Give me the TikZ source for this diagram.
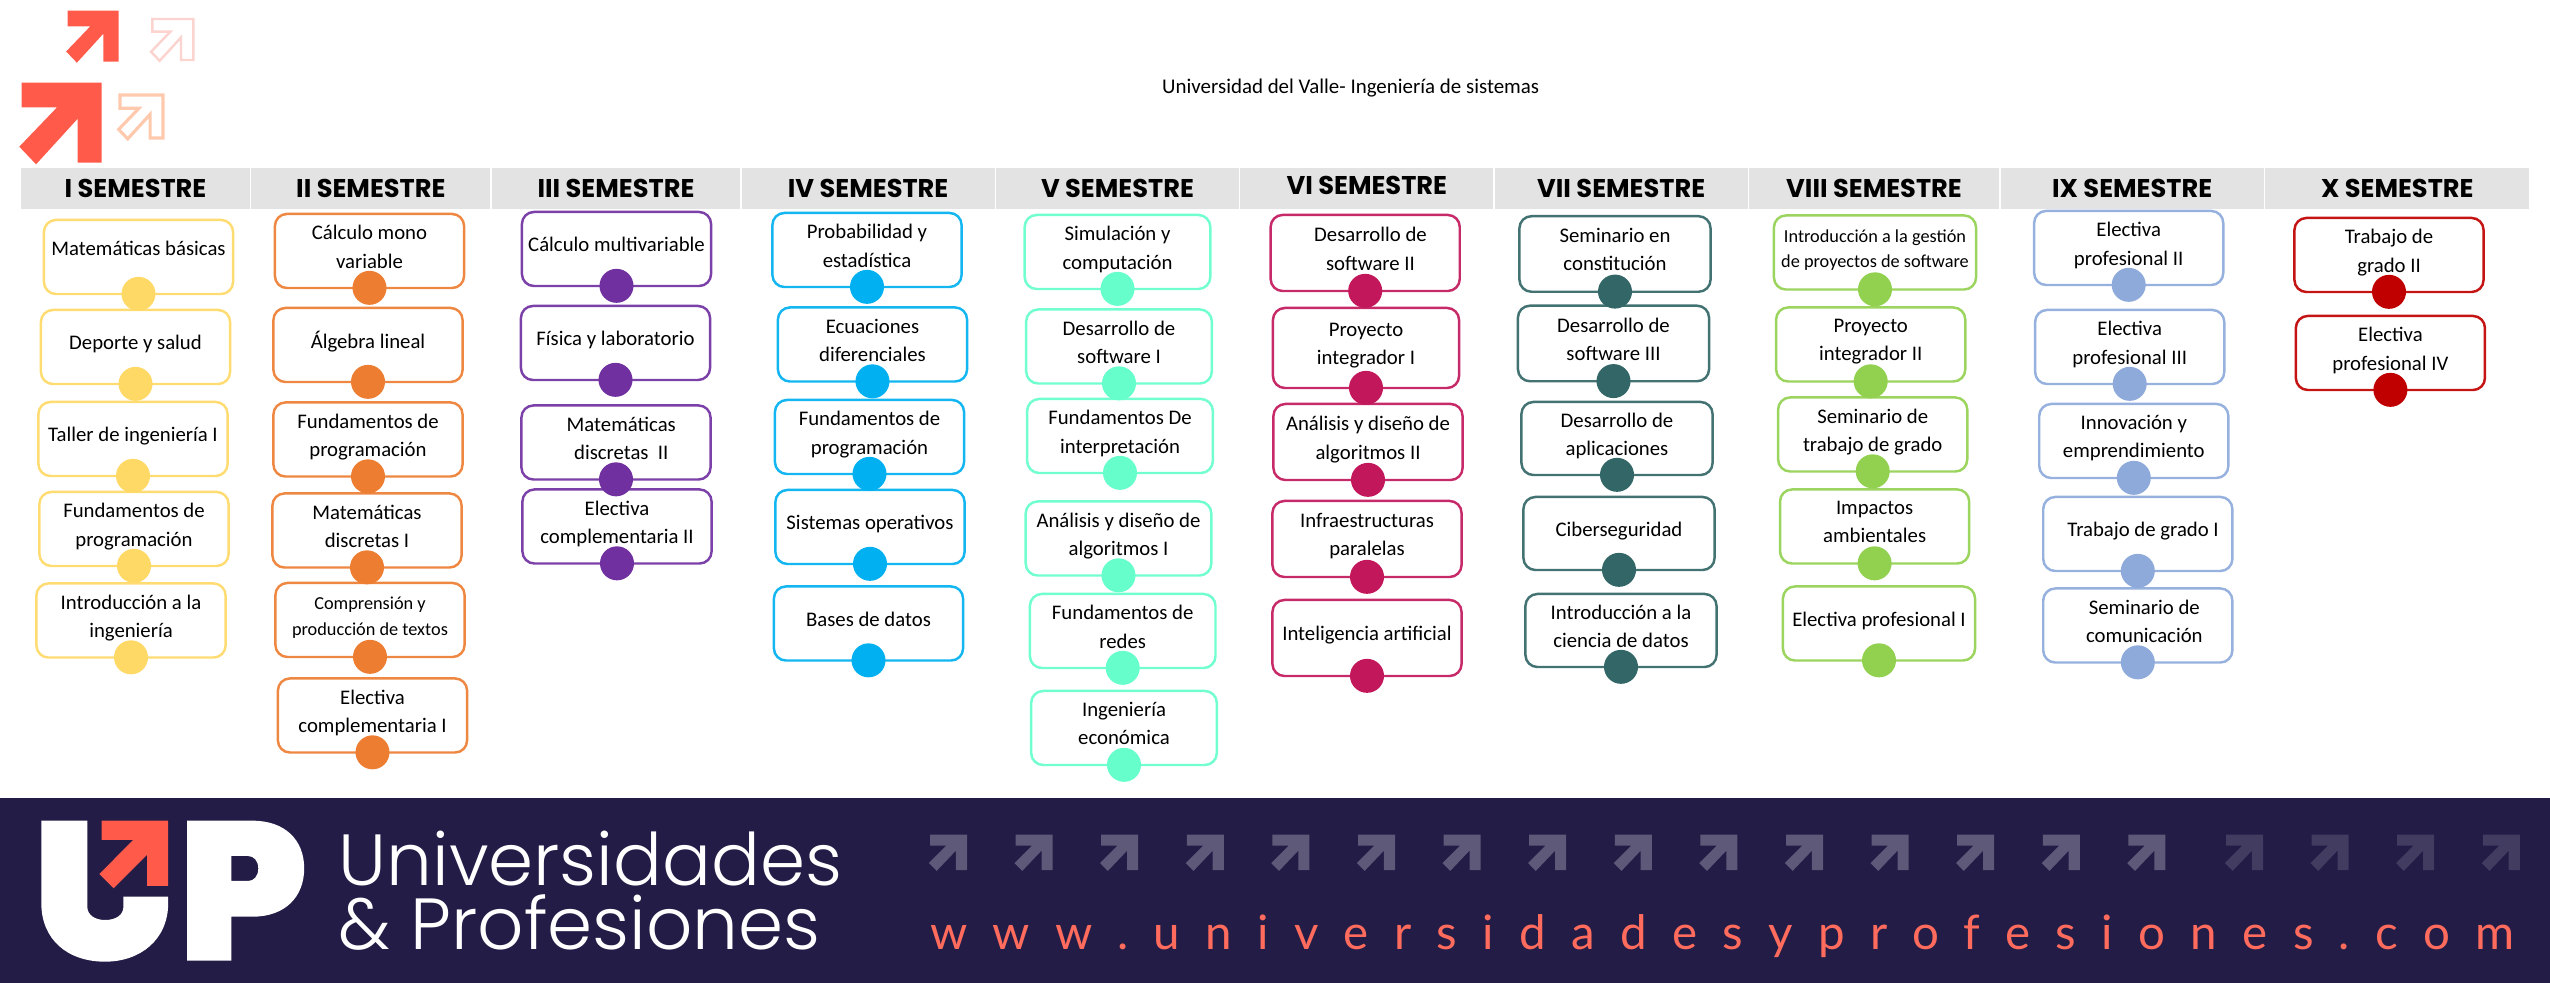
\documentclass[tikz,border=0pt]{standalone}
\usepackage{fontspec}
\setmainfont{Carlito}
\newfontfamily\headfont{Poppins}
\newfontfamily\logofont[UprightFont=* Light]{Poppins}
\newfontfamily\urlfont[LetterSpace=53.5]{Lato}
\usepackage{tikz}
\usetikzlibrary{positioning}
\definecolor{semyel}{HTML}{FFD966}
\definecolor{semora}{HTML}{ED7D31}
\definecolor{sempur}{HTML}{7030A0}
\definecolor{semblu}{HTML}{00B0F0}
\definecolor{semmin}{HTML}{66FFCC}
\definecolor{semcri}{HTML}{C2185B}
\definecolor{semtea}{HTML}{336666}
\definecolor{semgre}{HTML}{92D050}
\definecolor{semper}{HTML}{8EAADB}
\definecolor{semred}{HTML}{C00000}
\definecolor{upnavy}{HTML}{221C46}
\definecolor{upcoral}{HTML}{FF5A4A}
\definecolor{uppink}{HTML}{FBD3CF}
\definecolor{uppeach}{HTML}{FFC9AE}
\newcommand{\upline}[2][0.8pt]{\raisebox{#1}{#2}}
\begin{document}
\begin{tikzpicture}[
x=0.01cm, y=-0.01cm,
head/.style={fill=black!11, minimum height=0.41cm, inner sep=0pt, outer sep=0pt, font=\fontsize{7.3}{8}\headfont\bfseries},
box/.style={draw=#1!92, line width=0.7pt, rounded corners=3.4pt, minimum width=1.89cm, minimum height=0.74cm, inner sep=0pt, align=center, font=\fontsize{5.9}{8}\selectfont, execute at begin node={\strut}, execute at end node={\strut}},
dot/.style={circle, fill=#1, minimum size=0.34cm, inner sep=0pt, yshift=0.4pt},
small/.style={font=\fontsize{5.2}{7.2}\selectfont},
upicon/.pic={\path[pic actions] (0,0) -- (100,0) -- (100,100) -- (70,100) -- (70,45) -- (18,102) -- (-3,80) -- (44,31) -- (0,31) -- cycle;}
]
\useasboundingbox (0,0) rectangle (2550,983);
\pic[fill=upcoral, scale=0.51] at (67.7,10.7) {upicon};
\pic[fill=upcoral, scale=0.8] at (21.7,82.7) {upicon};
\pic[draw=uppink, line width=0.7pt, scale=0.41] at (152.3,19) {upicon};
\pic[draw=uppeach, line width=0.9pt, scale=0.43] at (120,95) {upicon};
\node[inner sep=0pt, font=\fontsize{5.95}{7}\selectfont] (title) at (1350.7,88.5) {Universidad del Valle- Ingeniería de sistemas};

\node[head, minimum width=2.29cm] (sem1) at (135.5,188.5) {I SEMESTRE};
\node[head, minimum width=2.39cm, right=0.012cm of sem1] (sem2) {II SEMESTRE};
\node[head, minimum width=2.48cm, right=0.015cm of sem2] (sem3) {III SEMESTRE};
\node[head, minimum width=2.53cm, right=0.015cm of sem3] (sem4) {IV SEMESTRE};
\node[head, minimum width=2.43cm, right=0.012cm of sem4] (sem5) {V SEMESTRE};
\node[head, minimum width=2.53cm, right=0.012cm of sem5] (sem6) {\raisebox{1.6pt}{VI SEMESTRE}};
\node[head, minimum width=2.53cm, right=0.012cm of sem6] (sem7) {VII SEMESTRE};
\node[head, minimum width=2.50cm, right=0.012cm of sem7] (sem8) {VIII SEMESTRE};
\node[head, minimum width=2.63cm, right=0.015cm of sem8] (sem9) {IX SEMESTRE};
\node[head, minimum width=2.64cm, right=0.015cm of sem9] (sem10) {X SEMESTRE};

\node[box=semyel] (matbas) at (138.5,257) {\upline[2.7pt]{Matemáticas básicas}};
\node[box=semyel] (deporte) at (135.5,347) {\upline{Deporte y salud}};
\node[box=semyel] (taller) at (133,439) {\upline{Taller de ingeniería I}};
\node[box=semyel] (fundprog) at (134,529) {Fundamentos de\\programación};
\node[box=semyel] (introing) at (131,620.5) {Introducción a la\\ingeniería};
\node[dot=semyel] (matbas-d) at (matbas.south) {};
\node[dot=semyel] (deporte-d) at (deporte.south) {};
\node[dot=semyel] (taller-d) at (taller.south) {};
\node[dot=semyel] (fundprog-d) at (fundprog.south) {};
\node[dot=semyel] (introing-d) at (introing.south) {};

\node[box=semora] (calmono) at (369.5,251) {Cálculo mono\\variable};
\node[box=semora] (algebra) at (368,345) {\upline{Álgebra lineal}};
\node[box=semora] (fundpro) at (368,439.5) {Fundamentos de\\programación};
\node[box=semora] (matdis) at (367,530.5) {Matemáticas\\discretas I};
\node[box=semora, small] (comprension) at (370,620) {Comprensión y\\producción de textos};
\node[box=semora] (electa) at (372.5,715.5) {Electiva\\complementaria I};
\node[dot=semora] (calmono-d) at (calmono.south) {};
\node[dot=semora] (algebra-d) at (algebra.south) {};
\node[dot=semora] (fundpro-d) at (fundpro.south) {};
\node[dot=semora] (matdis-d) at (matdis.south) {};
\node[dot=semora] (comprension-d) at (comprension.south) {};
\node[dot=semora] (electa-d) at (electa.south) {};

\node[box=sempur] (calmulti) at (616.5,249) {\upline{Cálculo multivariable}};
\node[box=sempur] (fisica) at (615.5,343) {\upline{Física y laboratorio}};
\node[box=sempur] (matdisb) at (616,442.5) {\hspace{3pt}Matemáticas\\\hspace{3pt}discretas~~II};
\node[box=sempur] (electb) at (617,526.5) {Electiva\\complementaria II};
\node[dot=sempur] (calmulti-d) at (calmulti.south) {};
\node[dot=sempur] (fisica-d) at (fisica.south) {};
\node[dot=sempur] (matdisb-d) at (matdisb.south) {};
\node[dot=sempur] (electb-d) at (electb.south) {};

\node[box=semblu] (probab) at (867,250) {Probabilidad y\\estadística};
\node[box=semblu] (ecuac) at (872.5,344.5) {Ecuaciones\\diferenciales};
\node[box=semblu] (fundprb) at (869.5,437) {Fundamentos de\\programación};
\node[box=semblu] (sisop) at (870,527) {\upline{Sistemas operativos}};
\node[box=semblu] (bases) at (868.5,623.5) {\upline{Bases de datos}};
\node[dot=semblu] (probab-d) at (probab.south) {};
\node[dot=semblu] (ecuac-d) at (ecuac.south) {};
\node[dot=semblu] (fundprb-d) at (fundprb.south) {};
\node[dot=semblu] (sisop-d) at (sisop.south) {};
\node[dot=semblu] (bases-d) at (bases.south) {};

\node[box=semmin, minimum width=1.855cm] (simul) at (1117.5,252) {Simulación y\\computación};
\node[box=semmin, minimum width=1.855cm] (softa) at (1119,346.5) {Desarrollo de\\software I};
\node[box=semmin, minimum width=1.855cm] (interp) at (1120,436) {Fundamentos De\\interpretación};
\node[box=semmin, minimum width=1.855cm] (anaa) at (1118.5,538.5) {Análisis y diseño de\\algoritmos I};
\node[box=semmin, minimum width=1.855cm] (redes) at (1122.7,631) {Fundamentos de\\redes};
\node[box=semmin, minimum width=1.855cm] (econ) at (1124,728) {Ingeniería\\económica};
\node[dot=semmin] (simul-d) at (simul.south) {};
\node[dot=semmin] (softa-d) at (softa.south) {};
\node[dot=semmin] (interp-d) at (interp.south) {};
\node[dot=semmin] (anaa-d) at (anaa.south) {};
\node[dot=semmin] (redes-d) at (redes.south) {};
\node[dot=semmin] (econ-d) at (econ.south) {};

\node[box=semcri, minimum height=0.76cm] (softb) at (1365.2,253) {\hspace{3pt}Desarrollo de\\\hspace{3pt}software II};
\node[box=semcri, minimum height=0.8cm, minimum width=1.86cm] (intega) at (1366,348) {Proyecto\\integrador I};
\node[box=semcri, minimum height=0.76cm] (anab) at (1368,442) {Análisis y diseño de\\algoritmos II};
\node[box=semcri, minimum height=0.76cm] (infra) at (1367,539) {Infraestructuras\\paralelas};
\node[box=semcri, minimum height=0.76cm] (intel) at (1367,638) {\upline{Inteligencia artificial}};
\node[dot=semcri] (softb-d) at (softb.south) {};
\node[dot=semcri] (intega-d) at (intega.south) {};
\node[dot=semcri] (anab-d) at (anab.south) {};
\node[dot=semcri] (infra-d) at (infra.south) {};
\node[dot=semcri] (intel-d) at (intel.south) {};

\node[box=semtea, minimum width=1.91cm, minimum height=0.755cm] (semcons) at (1615,254) {Seminario en\\constitución};
\node[box=semtea, minimum width=1.91cm, minimum height=0.755cm] (softc) at (1613.5,343.5) {Desarrollo de\\software III};
\node[box=semtea, minimum width=1.91cm, minimum height=0.73cm] (aplic) at (1617,438.5) {Desarrollo de\\aplicaciones};
\node[box=semtea, minimum width=1.91cm, minimum height=0.73cm] (ciber) at (1619,533.5) {\upline{Ciberseguridad}};
\node[box=semtea, minimum width=1.91cm, minimum height=0.73cm] (ciencia) at (1621,630.5) {Introducción a la\\ciencia de datos};
\node[dot=semtea] (semcons-d) at (semcons.south) {};
\node[dot=semtea] (softc-d) at (softc.south) {};
\node[dot=semtea] (aplic-d) at (aplic.south) {};
\node[dot=semtea] (ciber-d) at (ciber.south) {};
\node[dot=semtea] (ciencia-d) at (ciencia.south) {};

\node[box=semgre, small, minimum width=2.02cm] (gestion) at (1875,252.5) {Introducción a la gestión\\de proyectos de software};
\node[box=semgre] (integb) at (1870.7,344.5) {Proyecto\\integrador II};
\node[box=semgre] (tgrado) at (1872.7,434.5) {Seminario de\\trabajo de grado};
\node[box=semgre] (impact) at (1874.6,526.5) {Impactos\\ambientales};
\node[box=semgre, minimum width=1.92cm] (profa) at (1879,623.5) {\upline{Electiva profesional I}};
\node[dot=semgre] (gestion-d) at (gestion.south) {};
\node[dot=semgre] (integb-d) at (integb.south) {};
\node[dot=semgre] (tgrado-d) at (tgrado.south) {};
\node[dot=semgre] (impact-d) at (impact.south) {};
\node[dot=semgre] (profa-d) at (profa.south) {};

\node[box=semper] (profb) at (2128.7,248) {Electiva\\profesional II};
\node[box=semper] (profc) at (2129.7,347) {Electiva\\profesional III};
\node[box=semper] (innov) at (2133.8,441) {Innovación y\\emprendimiento};
\node[box=semper] (tgraa) at (2137.8,534) {\hspace{3pt}\upline{Trabajo de grado I}};
\node[box=semper] (comun) at (2137.8,625.5) {\hspace{3.7pt}Seminario de\\\hspace{3.7pt}comunicación};
\node[dot=semper] (profb-d) at (profb.south) {};
\node[dot=semper] (profc-d) at (profc.south) {};
\node[dot=semper] (innov-d) at (innov.south) {};
\node[dot=semper] (tgraa-d) at (tgraa.south) {};
\node[dot=semper] (comun-d) at (comun.south) {};

\node[box=semred] (tgrab) at (2389,255) {Trabajo de\\grado II};
\node[box=semred] (profd) at (2390.4,353) {Electiva\\profesional IV};
\node[dot=semred] (tgrab-d) at (tgrab.south) {};
\node[dot=semred] (profd-d) at (profd.south) {};

\fill[upnavy] (0,798) rectangle (2550,983);
\fill[white] (41.3,820.7) -- (87.3,820.7) -- (87.3,906.7) .. controls (87.3,915) and (95,920) .. (105,920) .. controls (116,920) and (123.4,915) .. (123.4,906.7) -- (123.4,896.7) -- (168.2,896.7) -- (168.2,903) .. controls (168.2,940) and (140,961.7) .. (105,961.7) .. controls (68,961.7) and (41.3,940) .. (41.3,903) -- cycle;
\fill[white, even odd rule] (187,820.7) -- (252.6,820.7) .. controls (285,820.7) and (304.2,840) .. (304.2,868.3) .. controls (304.2,897) and (285,916.7) .. (252.6,916.7) -- (231.3,916.7) -- (231.3,960.7) -- (187,960.7) -- cycle (231.3,856) -- (231.3,881) -- (248,881) .. controls (254,881) and (258.3,876) .. (258.3,868.5) .. controls (258.3,861) and (254,856) .. (248,856) -- cycle;
\fill[upcoral] (101.6,820.7) -- (168.2,820.7) -- (168.2,886) -- (147,886) -- (147,855) -- (113.7,888.3) -- (99.3,874) -- (133.2,840) -- (101.6,840) -- cycle;
\node[anchor=base west, inner sep=0pt, text=white, font=\fontsize{20.6}{22}\logofont] (upa) at (338,886) {Universidades};
\node[anchor=base west, inner sep=0pt, text=white, font=\fontsize{20.6}{22}\logofont] (upb) at (338,950) {\& Profesiones};
\foreach \i in {0,...,14}
  \pic[fill=white!27!upnavy, xscale=0.37, yscale=0.355] at (930+85.6*\i,834.7) {upicon};
\foreach \i in {0,...,3}
  \pic[fill=white!14!upnavy, xscale=0.37, yscale=0.355] at (2226+85.6*\i,834.7) {upicon};
\node[anchor=base west, inner sep=0pt, text=upcoral!90!white, font=\fontsize{13.5}{16}\urlfont] (upurl) at (929.5,949.3) {www.universidadesyprofesiones.com};
\end{tikzpicture}
\end{document}
